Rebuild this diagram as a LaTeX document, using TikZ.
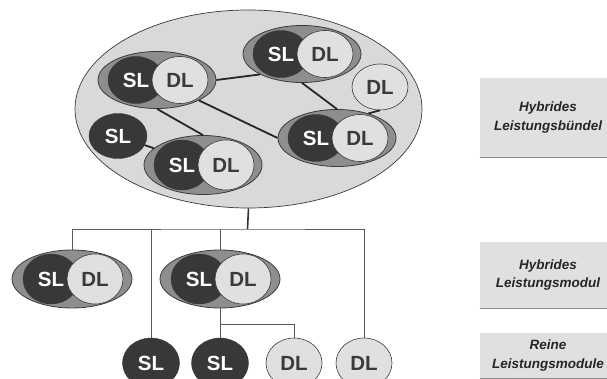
\documentclass[tikz,border=0pt]{standalone}
\usepackage{fontspec}
\setmainfont{Liberation Sans}
\usetikzlibrary{shapes.geometric}
\definecolor{bundlegray}{HTML}{D9D9D9}
\definecolor{ringgray}{HTML}{8E8E8E}
\definecolor{slgray}{HTML}{383838}
\definecolor{dlgray}{HTML}{E0E0E0}
\definecolor{edgegray}{HTML}{3A3A3A}
\definecolor{boxgray}{HTML}{E0E0E0}
\tikzset{
  hybmod/.style={ellipse,draw=edgegray,fill=ringgray,line width=0.8pt,
    minimum width=118pt,minimum height=57pt,inner sep=0pt},
  slnode/.style={ellipse,draw=slgray,fill=slgray,text=white,inner sep=0pt,
    font=\fontsize{20.5}{20.5}\selectfont\bfseries,minimum width=56pt,minimum height=47pt},
  dlnode/.style={ellipse,draw=edgegray,fill=dlgray,text=edgegray,inner sep=0pt,line width=0.6pt,
    font=\fontsize{20.5}{20.5}\selectfont\bfseries,minimum width=56pt,minimum height=47pt},
  link/.style={line width=1.8pt,draw=black!85},
  tree/.style={line width=0.7pt,draw=black!65},
  tagbox/.style={fill=boxgray,minimum width=136pt,align=center,text=black!85,
    font=\fontsize{13.5}{18.5}\selectfont\bfseries\itshape},
  tagedge/.style={line width=1.2pt,draw=black!45}
}
\begin{document}
\begin{tikzpicture}[x=1pt,y=-1pt]
  \useasboundingbox (0,0) rectangle (607,379);
  \clip (0,0) rectangle (607,379);
  % hybrides Leistungsbuendel
  \node (bundle)[ellipse,draw=edgegray,fill=bundlegray,line width=0.7pt,
    minimum width=347pt,minimum height=198pt] at (248.5,109) {};
  \node (modA)[hybmod] at (157,80) {};
  \node (modAsl)[slnode] at ([xshift=-21pt]modA.center) {SL};
  \node (modAdl)[dlnode] at ([xshift=23pt]modA.center) {DL};
  \node (modB)[hybmod] at (302,54) {};
  \node (modBsl)[slnode] at ([xshift=-21pt]modB.center) {SL};
  \node (modBdl)[dlnode] at ([xshift=23pt]modB.center) {DL};
  \node (modC)[hybmod] at (337,138) {};
  \node (modCsl)[slnode] at ([xshift=-21pt]modC.center) {SL};
  \node (modCdl)[dlnode] at ([xshift=23pt]modC.center) {DL};
  \node (modD)[hybmod,minimum height=59pt] at (203,165) {};
  \node (modDsl)[slnode,minimum height=50pt] at ([xshift=-21pt]modD.center) {SL};
  \node (modDdl)[dlnode,minimum height=50pt] at ([xshift=23pt]modD.center) {DL};
  \node (loneSL)[slnode,minimum width=58pt,minimum height=45pt] at (118,136) {SL};
  \node (loneDL)[dlnode,minimum height=46pt] at (380,87) {DL};
  \draw[link] (modA.east) -- (modB.south west);
  \draw[link] (modA.south east) -- (modC.west);
  \draw[link] (modA.south) -- (modD.north);
  \draw[link] (modB.south) -- (modC.north);
  \draw[link] (loneSL) -- (modD);
  \draw[link] (loneDL.south) -- (modC.38);
  % hybride Leistungsmodule
  \node (modM1)[hybmod,minimum width=120pt,minimum height=58pt] at (72,279) {};
  \node (modM1sl)[slnode,minimum height=50pt] at ([xshift=-21pt]modM1.center) {SL};
  \node (modM1dl)[dlnode,minimum height=50pt] at ([xshift=23pt]modM1.center) {DL};
  \node (modM2)[hybmod,minimum width=120pt,minimum height=58pt] at (220,279) {};
  \node (modM2sl)[slnode,minimum height=50pt] at ([xshift=-21pt]modM2.center) {SL};
  \node (modM2dl)[dlnode,minimum height=50pt] at ([xshift=23pt]modM2.center) {DL};
  % reine Leistungsmodule
  \node (pure1)[slnode,minimum width=57pt,minimum height=50pt] at (151,363) {SL};
  \node (pure2)[slnode,minimum width=57pt,minimum height=50pt] at (220,363) {SL};
  \node (pure3)[dlnode,minimum width=56pt,minimum height=50pt] at (294,363) {DL};
  \node (pure4)[dlnode,minimum width=56pt,minimum height=50pt] at (364,363) {DL};
  % Baum
  \coordinate (bus) at (247.5,229);
  \coordinate (split) at (220,324);
  \draw[line width=1.6pt,draw=black!80] (bundle.south) -- (bus);
  \draw[tree] (modM1.north) |- (bus) -| (pure4.north);
  \draw[tree] (pure1.north) -- (pure1.north |- bus);
  \draw[tree] (modM2.north) -- (modM2.north |- bus);
  \draw[tree] (modM2.south) -- (pure2.north);
  \draw[tree] (split) -| (pure3.north);
  % Ebenen
  \node (tag1)[tagbox,minimum height=79pt] at (548,117.5) {Hybrides\\Leistungsbündel};
  \node (tag2)[tagbox,minimum height=66pt] at (548,275) {Hybrides\\Leistungsmodul};
  \node (tag3)[tagbox,minimum height=45pt] at (548,355.5) {Reine\\Leistungsmodule};
  \draw[tagedge] (tag1.south west) -- (tag1.south east);
  \draw[tagedge] (tag2.south west) -- (tag2.south east);
  \draw[tagedge] (tag3.south west) -- (tag3.south east);
\end{tikzpicture}
\end{document}
